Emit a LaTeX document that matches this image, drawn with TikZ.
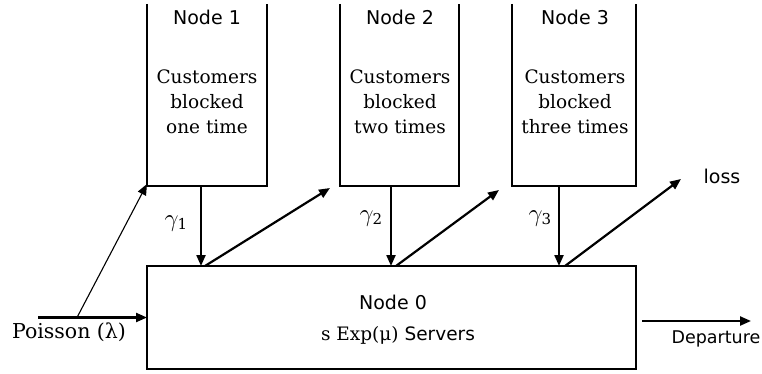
\documentclass[tikz,border=0pt]{standalone}
\usepackage{fontspec}
\setmainfont{DejaVu Serif}
\setsansfont{DejaVu Sans}
\usetikzlibrary{arrows.meta}
\begin{document}
\begin{tikzpicture}[x=1pt,y=-1pt,
  qbox/.style={rectangle,inner sep=0pt,outer sep=0pt},
  edge/.style={line width=2.2pt},
  arr/.style={line width=2.2pt,-{Triangle[length=11pt,width=9pt]}},
  thinarr/.style={line width=1.1pt,-{Triangle[length=11pt,width=9pt]}},
  lbl/.style={font=\sffamily\fontsize{19}{24}\selectfont,inner sep=0pt},
  txt/.style={font=\rmfamily\fontsize{18.5}{25}\selectfont,align=center,inner sep=0pt},
  gam/.style={font=\rmfamily\fontsize{24}{24}\selectfont,inner sep=0pt}]
\useasboundingbox (0,0) rectangle (762,374);

% queue boxes (open at the top)
\node[qbox,minimum width=120pt,minimum height=182pt] (n1) at (207,95) {};
\node[qbox,minimum width=119pt,minimum height=182pt] (n2) at (399.5,95) {};
\node[qbox,minimum width=124pt,minimum height=182pt] (n3) at (574,95) {};
\foreach \n in {n1,n2,n3}
  \draw[edge] (\n.north west) -- (\n.south west) -- (\n.south east) -- (\n.north east);

% server node
\node[qbox,draw,line width=2.2pt,minimum width=489pt,minimum height=103pt] (n0) at (391.5,317.5) {};

% texts in queue boxes
\node[lbl] (t1) at (207,17) {Node 1};
\node[lbl] (t2) at (400,17) {Node 2};
\node[lbl] (t3) at (575,17) {Node 3};
\node[txt] (c1) at (207,102) {Customers\\blocked\\one time};
\node[txt] (c2) at (400,102) {Customers\\blocked\\two times};
\node[txt] (c3) at (575,102) {Customers\\blocked\\three times};

% texts in server node
\node[lbl] (t0) at (393,302) {Node 0};
\node[inner sep=0pt] (srv) at (398,335) {\rmfamily\fontsize{18.5}{24}\selectfont s Exp(μ) \sffamily Servers};

% gamma labels
\node[gam] (g1) at (176,224) {$\gamma$\kern-1pt\raisebox{-3pt}{\fontsize{15}{15}\selectfont 1}};
\node[gam] (g2) at (371,219) {$\gamma$\kern-1pt\raisebox{-3pt}{\fontsize{15}{15}\selectfont 2}};
\node[gam] (g3) at (540,219) {$\gamma$\kern-1pt\raisebox{-3pt}{\fontsize{15}{15}\selectfont 3}};

% retrial arrows into node 0
\draw[arr] ([xshift=-6pt]n1.south) -- ([xshift=-6pt]n1.south |- n0.north);
\draw[arr] ([xshift=-8.5pt]n2.south) -- ([xshift=-8.5pt]n2.south |- n0.north);
\draw[arr] ([xshift=-15pt]n3.south) -- ([xshift=-15pt]n3.south |- n0.north);

% blocked arrows out of node 0
\coordinate (b1) at (330,188);
\coordinate (b2) at (499,190);
\coordinate (b3) at (681,179);
\draw[arr] ([xshift=-186.5pt]n0.north) -- (b1);
\draw[arr] ([xshift=4.5pt]n0.north) -- (b2);
\draw[arr] ([xshift=173.5pt]n0.north) -- (b3);
\node[lbl] (loss) at (722,176) {loss};

% arrivals
\coordinate (pin) at (38,317.5);
\coordinate (pbr) at (77,317.5);
\draw[arr] (pin) -- (n0.west);
\draw[thinarr] (pbr) -- ([yshift=2pt]n1.south west);
\node[inner sep=0pt] (poi) at (69,332) {\rmfamily\fontsize{20.5}{24}\selectfont Poisson (λ)};

% departures
\coordinate (d0) at (642,321);
\coordinate (d1) at (751,321);
\draw[arr] (d0) -- (d1);
\node[lbl,font=\sffamily\fontsize{17.5}{22}\selectfont] (dep) at (716,339) {Departure};
\end{tikzpicture}
\end{document}
